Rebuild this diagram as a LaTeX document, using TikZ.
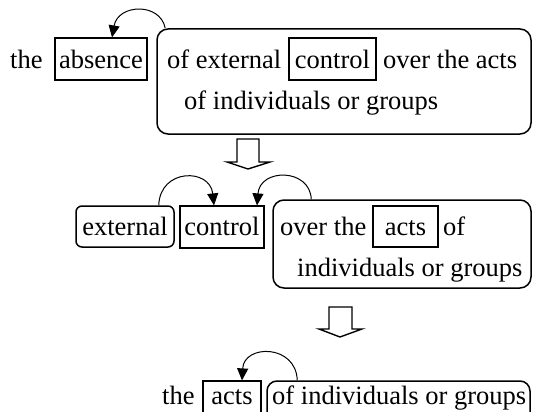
\documentclass[tikz,border=0pt]{standalone}
\usepackage{fontspec}
\setmainfont{Liberation Serif}
\newfontfamily\diagfont{Liberation Serif}
\usetikzlibrary{arrows.meta}
\tikzset{
  txt/.style={font=\diagfont\fontsize{26.5}{30}\selectfont, inner sep=0pt},
  word/.style={txt, anchor=base west},
  sqbox/.style={txt, draw, line width=1.2pt, text height=20pt, text depth=0pt},
  sqboxb/.style={txt, draw, line width=1.2pt, text height=17pt, text depth=0pt},
  rbox/.style={draw, line width=1.5pt, rounded corners=11pt, inner sep=0pt},
  curarr/.style={line width=1pt, -{Triangle[length=12pt,width=11pt]}},
  blockarr/.style={draw, line width=1.4pt, line join=miter, fill=white}
}
\begin{document}
\begin{tikzpicture}[x=1pt,y=-1pt]
\useasboundingbox (0,0) rectangle (533,412);

% ---------- Row 1 ----------
\node[rbox, minimum width=374pt, minimum height=105pt] (r1) at (344,81.5) {};
\node[word] (the1) at (10,69) {the};
\node[sqbox, minimum width=92pt, minimum height=42pt] (abs1) at (101,59) {absence};
\node[word] (ofext) at (167,69) {of external};
\node[sqbox, minimum width=87pt, minimum height=42pt] (ctl1) at (332.5,59) {control};
\node[word] (over1) at (383,69) {over the acts};
\node[word] (ind1) at (184,110) {of individuals or groups};
\draw[curarr] ([xshift=9pt]r1.north west) .. controls (160,2) and (118,4) .. ([xshift=11pt]abs1.north);

% down arrow 1
\path[blockarr] (237,139) -- (259,139) -- (259,162) -- (270,162) -- (248,169)
  -- (227,162) -- (237,162) -- cycle;

% ---------- Row 2 ----------
\node[rbox, minimum width=258pt, minimum height=88pt] (r2) at (402,244) {};
\node[sqboxb, rounded corners=6pt, line width=1.5pt, minimum width=98pt, minimum height=41pt] (ext2) at (125,226.5) {external};
\node[sqboxb, minimum width=84pt, minimum height=42pt] (ctl2) at (222,227) {control};
\node[word] (over2) at (280,235) {over the};
\node[sqboxb, minimum width=65pt, minimum height=41pt] (acts2) at (405.5,226.5) {acts};
\node[word] (of2) at (443,235) {of};
\node[word] (ind2) at (297,276) {individuals or groups};
\draw[curarr] ([xshift=-16pt]ext2.north east) .. controls (160,168) and (210,168) .. ([xshift=-8pt]ctl2.north);
\draw[curarr] ([xshift=39pt]r2.north west) .. controls (310,168) and (260,168) .. ([xshift=35pt]ctl2.north);

% down arrow 2
\path[blockarr] (329,307) -- (352,307) -- (352,329) -- (362,329) -- (340,337)
  -- (319,329) -- (329,329) -- cycle;

% ---------- Row 3 ----------
\node[rbox, rounded corners=10pt, minimum width=263pt, minimum height=48pt] (r3) at (398.5,405) {};
\node[word] (the3) at (162,404) {the};
\node[txt, draw, line width=1.2pt, text height=18pt, text depth=20pt, minimum width=58pt, minimum height=48pt] (acts3) at (232,405) {acts};
\node[word] (ind3) at (272,404) {of individuals or groups};
\draw[curarr] ([xshift=31pt]r3.north west) .. controls (296,344) and (244,344) .. ([xshift=10pt]acts3.north);
\end{tikzpicture}
\end{document}
